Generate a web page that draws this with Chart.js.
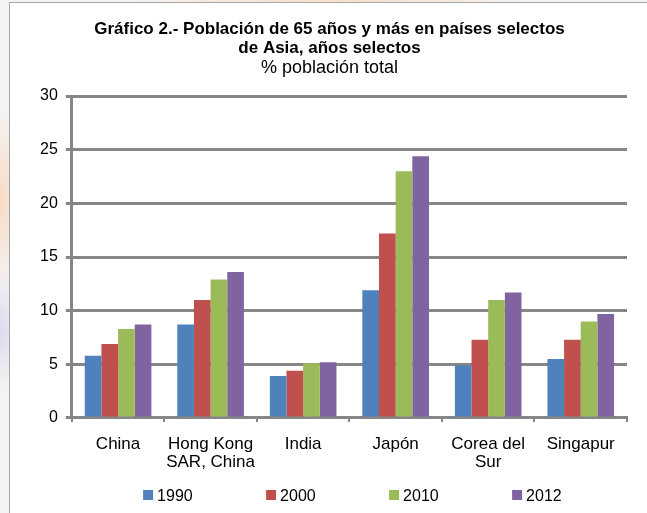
<!DOCTYPE html>
<html>
<head>
<meta charset="utf-8">
<script src="https://cdn.jsdelivr.net/npm/chart.js@4.4.1/dist/chart.umd.min.js"></script>
<style>
  html, body { margin: 0; padding: 0; }
  body {
    width: 647px; height: 513px; overflow: hidden; position: relative;
    background:
      radial-gradient(ellipse 40px 90px at 0px 200px, rgba(250,200,160,0.55), rgba(250,200,160,0) 100%),
      radial-gradient(ellipse 30px 60px at 0px 330px, rgba(200,205,235,0.6), rgba(200,205,235,0) 100%),
      radial-gradient(ellipse 200px 8px at 330px 0px, rgba(250,205,170,0.6), rgba(250,205,170,0) 100%),
      #f4f3f2;
  }
  #card {
    position: absolute; left: 9px; top: 2px; width: 660px; height: 530px;
    background: #ffffff; border: 1px solid #a6a6a6; box-sizing: border-box;
  }
  #wrap { position: absolute; left: 0; top: 0; width: 647px; height: 513px; }
</style>
</head>
<body>
<div id="card"></div>
<div id="wrap"><canvas id="c" width="647" height="513"></canvas></div>
<script>
// ---- data ----
const categories = [['China'], ['Hong Kong', 'SAR, China'], ['India'], ['Japón'], ['Corea del', 'Sur'], ['Singapur']];
const seriesNames = ['1990', '2000', '2010', '2012'];
const values1990 = [5.8, 8.7, 3.9, 11.9, 4.9, 5.5];
const values2000 = [6.9, 11.0, 4.4, 17.2, 7.3, 7.3];
const values2010 = [8.3, 12.9, 5.1, 23.0, 11.0, 9.0];
const values2012 = [8.7, 13.6, 5.2, 24.4, 11.7, 9.7];
const yTicks = [0, 5, 10, 15, 20, 25, 30];
const titleLines = ['Gráfico 2.- Población de 65 años y más en países selectos', 'de Asia, años selectos'];
const subtitleText = '% población total';

const colors = ['#4F81BD', '#C0504D', '#9BBB59', '#8064A2'];
const FONT = '"Liberation Sans", Arial, Helvetica, sans-serif';
const GRID = '#868686';

const legendPlugin = {
  id: 'spacedLegend',
  afterDraw(chart) {
    const ctx = chart.ctx;
    const ds = chart.data.datasets;
    const box = 10, gap = 4, spacing = 123;
    ctx.save();
    ctx.font = '16px ' + FONT;
    const lastW = ctx.measureText(ds[ds.length - 1].label).width;
    const total = spacing * (ds.length - 1) + box + gap + lastW;
    const cx = (chart.chartArea.left + chart.chartArea.right) / 2 + 3;
    let x = cx - total / 2;
    const y = chart.height - 17;
    ds.forEach((d) => {
      ctx.fillStyle = d.backgroundColor;
      ctx.fillRect(x, y - 6, box, box);
      ctx.fillStyle = '#000';
      ctx.textBaseline = 'middle';
      ctx.textAlign = 'left';
      ctx.fillText(d.label, x + box + gap, y + 1);
      x += spacing;
    });
    ctx.restore();
  }
};

const allValues = [values1990, values2000, values2010, values2012];

new Chart(document.getElementById('c'), {
  type: 'bar',
  data: {
    labels: categories,
    datasets: seriesNames.map((n, i) => ({
      label: n,
      data: allValues[i],
      backgroundColor: colors[i],
      borderWidth: 0,
      categoryPercentage: 0.72,
      barPercentage: 1.0
    }))
  },
  options: {
    responsive: false,
    animation: false,
    layout: { padding: { left: 32, right: 20, top: 0, bottom: 29 } },
    plugins: {
      legend: { display: false },
      tooltip: { enabled: false },
      title: {
        display: true,
        text: titleLines,
        color: '#000',
        font: { family: FONT, size: 17, weight: 'bold', lineHeight: 1.12 },
        padding: { top: 19.5, bottom: 0 }
      },
      subtitle: {
        display: true,
        text: subtitleText,
        color: '#000',
        font: { family: FONT, size: 18, weight: 'normal', lineHeight: 1.0 },
        padding: { top: 1, bottom: 19.5 }
      }
    },
    scales: {
      x: {
        grid: { display: true, drawOnChartArea: false, drawTicks: true, tickLength: 4, offset: true, color: GRID, lineWidth: 2 },
        border: { display: true, color: GRID, width: 3 },
        ticks: { color: '#000', font: { family: FONT, size: 17, lineHeight: 1.06 }, padding: 13, maxRotation: 0, autoSkip: false }
      },
      y: {
        min: yTicks[0],
        max: yTicks[yTicks.length - 1],
        afterBuildTicks(scale) { scale.ticks = yTicks.map(v => ({ value: v })); },
        grid: { color: GRID, lineWidth: 3, tickLength: 6, drawTicks: true },
        border: { display: true, color: GRID, width: 3 },
        ticks: { color: '#000', font: { family: FONT, size: 16 }, padding: 8 }
      }
    }
  },
  plugins: [legendPlugin]
});
</script>
</body>
</html>
